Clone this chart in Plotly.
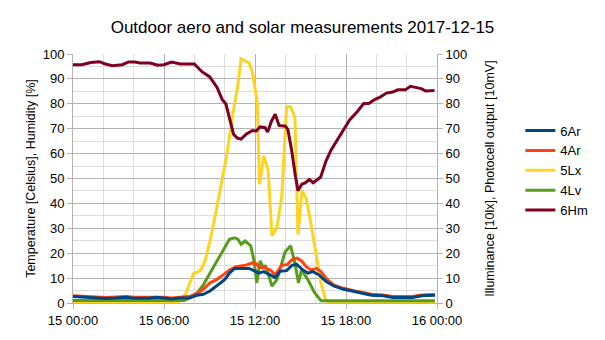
import plotly.graph_objects as go
import pandas as pd

DAY = "2017-12-15 "

# ---- data (time of day HH:MM, value) ----
ar6_t = ["00:00","00:40","01:30","02:10","02:50","03:30","04:00","05:00","05:30","06:00","06:30","07:00","07:40",
         "08:10","08:36","09:02","09:28","10:00","10:19","10:39","11:37","11:56","12:16","12:35","13:01","13:20",
         "13:40","14:05","14:25","14:44","15:10","15:29","15:49","16:14","16:40","17:13","17:51","18:30","19:08",
         "19:41","20:26","21:05","22:22","23:01","23:52"]
ar6_v = [2.6,2.3,2.0,1.8,2.0,2.3,1.9,1.9,2.3,2.0,1.6,2.0,2.0,
         3.1,3.5,4.8,6.8,9.4,12.0,13.9,13.9,13.0,12.0,12.6,11.3,10.2,
         12.8,13.0,15.0,15.6,13.2,12.0,12.6,11.3,8.7,6.8,5.5,4.6,3.9,
         3.1,2.9,2.2,2.2,2.9,3.1]

ar4_t = ["00:00","00:40","01:30","02:10","02:50","03:30","04:00","05:00","05:30","06:00","06:30","07:00","07:40",
         "08:10","08:36","09:02","09:28","09:54","10:19","10:45","11:24","11:50","12:03","12:18","12:41","13:01",
         "13:20","13:46","14:07","14:27","14:47","15:04","15:23","15:42","16:02","16:21","16:46","17:13","17:51",
         "18:30","19:08","19:41","20:26","21:05","22:22","23:01","23:52"]
ar4_v = [2.9,2.6,2.4,2.2,2.4,2.6,2.3,2.3,2.6,2.3,2.0,2.3,2.6,
         3.9,5.5,8.1,9.4,11.3,13.2,14.6,15.2,16.1,15.9,14.3,14.1,13.2,
         11.3,15.2,15.4,17.4,18.0,16.9,14.6,13.2,13.9,12.6,9.4,7.2,5.9,
         4.9,4.2,3.5,3.2,2.6,2.6,3.2,3.4]

lx5_t = ["00:00","06:55","07:25","07:58","08:10","08:26","08:43","09:02","09:28","09:47","10:07","10:32","10:52",
         "11:05","11:37","11:50","12:09","12:18","12:35","12:52","13:07","13:27","13:46","14:05","14:21","14:38",
         "14:44","14:50","15:06","15:23","15:42","16:02","16:21","16:40","17:02","23:52"]
lx5_v = [0,0,3.5,12.0,12.3,13.2,17.1,24.9,37.9,48.3,58.7,75.6,87.3,
         98.1,96.4,92.5,80.8,47.7,59.1,53.5,26.9,30.1,43.1,78.8,78.8,74.3,
         47.0,27.5,45.1,41.8,31.4,19.8,8.1,0.9,0,0]

lv4_t = ["00:00","07:20","07:45","08:10","08:36","09:02","09:28","09:54","10:19","10:39","10:52","11:05","11:21",
         "11:43","11:56","12:07","12:20","12:35","12:41","13:07","13:27","13:59","14:21","14:38","14:52","15:04",
         "15:29","15:55","16:21","23:52"]
lv4_v = [1.0,1.0,2.2,3.9,7.4,12.0,17.1,21.7,25.6,26.2,25.6,23.6,24.9,
         23.0,17.1,8.1,16.9,13.9,15.2,6.8,9.4,20.5,23.0,15.9,8.1,13.2,
         9.4,4.2,0.9,0.9]

hm6_t = ["00:00","00:35","01:10","01:45","02:05","02:35","03:15","03:40","04:05","04:25","05:05","05:35","06:00",
         "06:30","07:05","08:00","08:30","09:00","09:30","09:50","10:05","10:15","10:25","10:35","10:50","11:05",
         "11:25","11:50","12:05","12:20","12:40","12:50","13:05","13:20","13:35","14:00","14:10","14:25","14:40",
         "14:50","15:05","15:20","15:35","15:50","16:20","16:40","17:00","17:40","18:15","18:45","18:55","19:10",
         "19:30","19:55","20:15","20:40","21:05","21:25","21:55","22:15","22:35","23:00","23:15","23:50"]
hm6_v = [95.7,95.7,96.6,96.9,96.1,95.3,95.7,96.8,96.8,96.4,96.4,95.5,95.7,
         96.8,96.0,96.0,92.9,90.9,86.6,81.7,79.9,75.8,71.0,67.8,66.2,65.8,
         67.8,69.3,69.1,70.7,70.4,68.7,73.0,75.8,71.3,71.0,69.7,61.3,50.9,
         45.1,47.7,48.3,49.6,48.3,50.6,56.8,61.3,67.8,73.6,76.9,78.2,80.1,
         80.1,81.8,82.7,84.3,84.7,85.6,85.6,87.0,86.6,86.0,85.1,85.3]

names = ["6Ar", "4Ar", "5Lx", "4Lv", "6Hm"]
colors = {"6Ar": "#004586", "4Ar": "#ff420e", "5Lx": "#ffd320", "4Lv": "#579d1c", "6Hm": "#7e0021"}
series = {"6Ar": (ar6_t, ar6_v), "4Ar": (ar4_t, ar4_v), "5Lx": (lx5_t, lx5_v),
          "4Lv": (lv4_t, lv4_v), "6Hm": (hm6_t, hm6_v)}
draw_order = ["5Lx", "4Lv", "6Hm", "4Ar", "6Ar"]
legend_rank = {n: i for i, n in enumerate(names)}

fig = go.Figure()
for n in draw_order:
    t, v = series[n]
    fig.add_trace(go.Scatter(
        x=pd.to_datetime([DAY + s for s in t]), y=v, name=n, mode="lines",
        line=dict(color=colors[n], width=3), legendrank=legend_rank[n] + 1))
# right axis carrier (same scale)
fig.add_trace(go.Scatter(x=[pd.Timestamp(DAY + "00:00")], y=[None], yaxis="y2",
                         showlegend=False, hoverinfo="skip"))

FONT = "Liberation Sans, Arial, sans-serif"
grid_major = "#b3b3b3"
grid_minor = "#dddddd"

fig.update_layout(
    width=605, height=340,
    margin=dict(l=73, r=158, t=54, b=29),
    paper_bgcolor="white", plot_bgcolor="white",
    font=dict(family=FONT, size=13, color="black"),
    title=dict(text="Outdoor aero and solar measurements 2017-12-15", x=0.5, xanchor="center",
               y=1 - 27 / 340, yanchor="middle", font=dict(size=17, color="black")),
    xaxis=dict(range=[pd.Timestamp("2017-12-15 00:00"), pd.Timestamp("2017-12-16 00:00")],
               tickvals=pd.to_datetime(["2017-12-15 00:00", "2017-12-15 06:00", "2017-12-15 12:00",
                                        "2017-12-15 18:00", "2017-12-16 00:00"]),
               ticktext=["15 00:00", "15 06:00", "15 12:00", "15 18:00", "16 00:00"],
               showgrid=True, gridcolor=grid_major, gridwidth=1,
               minor=dict(dtick=2 * 3600 * 1000, showgrid=True, gridcolor=grid_minor,
                          tick0="2017-12-15 00:00"),
               ticks="outside", ticklen=5, tickcolor=grid_major,
               showline=True, linecolor=grid_major, zeroline=False,
               tickfont=dict(size=13)),
    yaxis=dict(range=[0, 100], dtick=10, showgrid=True, gridcolor=grid_major,
               minor=dict(dtick=5, showgrid=True, gridcolor=grid_minor),
               ticks="outside", ticklen=5, tickcolor=grid_major,
               showline=True, linecolor=grid_major, zeroline=False,
               title=dict(text="Temperature [Celsius], Humidity [%]", font=dict(size=12.5), standoff=4),
               tickfont=dict(size=13)),
    yaxis2=dict(range=[0, 100], dtick=10, overlaying="y", side="right", showgrid=False,
                ticks="outside", ticklen=5, tickcolor=grid_major,
                showline=True, linecolor=grid_major, zeroline=False,
                title=dict(text="Illuminance [10lx], Photocell output [10mV]", font=dict(size=12.5), standoff=18),
                tickfont=dict(size=13)),
    legend=dict(x=1.229, xanchor="left", y=0.532, yanchor="middle", font=dict(size=13),
                bgcolor="rgba(0,0,0,0)", borderwidth=0, tracegroupgap=0),
    showlegend=True,
)

fig.write_html("out.html")
